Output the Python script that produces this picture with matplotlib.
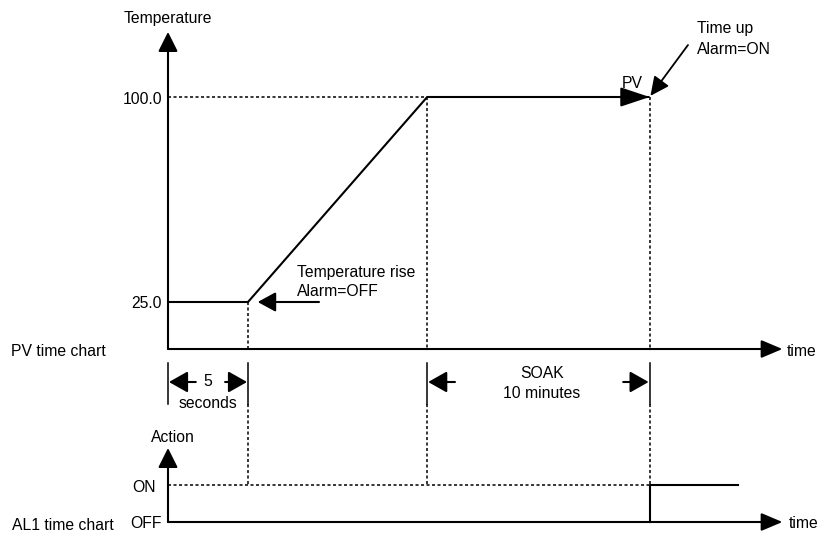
import matplotlib.pyplot as plt
from matplotlib.transforms import blended_transform_factory, offset_copy

plt.rcParams['font.family'] = ['Liberation Sans', 'DejaVu Sans']

# Schematic time points: start, rise start (+5 s), SV reached, soak end (+10 min)
t_events = [0.0, 5.0, 16.2, 30.1]
pv_values = [25.0, 25.0, 100.0, 100.0]
pv_ticks = [25.0, 100.0]
pv_tick_labels = ["25.0", "100.0"]

# AL1 output: switches ON when the soak time is up
al1_time = [30.1, 30.1, 35.6]
al1_state = [0, 1, 1]
al1_ticks = [0, 1]
al1_tick_labels = ["OFF", "ON"]

t_axis_end = 38.4
pv_axis_base = 7.8
pv_axis_top = 123.8
al1_axis_top = 2.0

W, H = 820, 538
FS = 11.3
LW = 1.5
TXT_DY = 2.0  # visual centring of text rows, in pixels
DOT = dict(color='black', lw=1.1, linestyle=(0, (2, 1.6)))

fig = plt.figure(figsize=(W / 100, H / 100), dpi=100)

ax_pv = fig.add_axes([0, 0, 1, 1])
ax_pv.set_xlim(-168 / 16, (W - 168) / 16)
ax_pv.set_ylim(25 - 236 / 2.7333, 100 + 97 / 2.7333)
ax_pv.axis('off')

ax_al = fig.add_axes([0, 0, 1, 1])
ax_al.set_xlim(ax_pv.get_xlim())
ax_al.set_ylim(-16 / 37, (H - 16) / 37)
ax_al.axis('off')
ax_al.patch.set_visible(False)


def fy(y_px):
    """Figure fraction for a pixel row counted from the top."""
    return 1 - y_px / H


def y_in(ax, y_px):
    disp = fig.transFigure.transform((0, fy(y_px)))
    return ax.transData.inverted().transform(disp)[1]


def arrow(ax, tip, tail, hl, hw, scale=10, lw=LW, **kw):
    ax.annotate('', xy=tip, xytext=tail,
                arrowprops=dict(arrowstyle=f'-|>,head_length={hl},head_width={hw}',
                                mutation_scale=scale, lw=lw, color='black',
                                shrinkA=0, shrinkB=0),
                **kw)


def ftext(x_px, y_px, s, **kw):
    kw.setdefault('va', 'center')
    fig.text(x_px / W, fy(y_px + TXT_DY), s, fontsize=FS, **kw)


def tick_labels(ax, x_px, values, labels, dx=None):
    base = blended_transform_factory(fig.transFigure, ax.transData)
    tr = offset_copy(base, fig=fig, y=-TXT_DY, units='dots')
    for i, (v, lab) in enumerate(zip(values, labels)):
        x = x_px if dx is None else x_px + dx[i]
        fig.text(x / W, v, lab, fontsize=FS, ha='right', va='center', transform=tr)


# ---------------- PV time chart ----------------
t0, t1, t2, t3 = t_events

# axes with arrowheads
arrow(ax_pv, (t0, pv_axis_top), (t0, pv_axis_base), 1.2, 0.6)
arrow(ax_pv, (t_axis_end, pv_axis_base), (t0, pv_axis_base), 1.3, 0.55)

# guide lines
ax_pv.plot([t0, t2], [pv_ticks[1], pv_ticks[1]], **DOT)
ax_pv.plot([t1, t1], [pv_values[1], pv_axis_base], **DOT)
ax_pv.plot([t2, t2], [pv_values[2], pv_axis_base], **DOT)
ax_pv.plot([t3, t3], [pv_values[3], pv_axis_base], **DOT)

# PV profile
ax_pv.plot(t_events, pv_values, color='black', lw=LW, solid_capstyle='butt')
arrow(ax_pv, (t3, pv_values[3]), (t3 - 1.6, pv_values[3]), 1.8, 0.6)

tick_labels(ax_pv, 162, pv_ticks, pv_tick_labels)

ftext(168, 16, "Temperature", ha='center')
ftext(11, 349, "PV time chart", ha='left')
ftext(787, 349, "time", ha='left')

# annotations
ax_pv.annotate('', xy=(t1, pv_values[1]), xycoords='data',
               xytext=(319 / W, fy(302)), textcoords='figure fraction',
               arrowprops=dict(arrowstyle='-|>,head_length=1.1,head_width=0.6',
                               mutation_scale=10, lw=LW, color='black',
                               shrinkA=0, shrinkB=7))
ftext(297, 270, "Temperature rise", ha='left')
ftext(297, 289, "Alarm=OFF", ha='left')

ax_pv.annotate('', xy=(t3, pv_values[3]), xycoords='data',
               xytext=(688 / W, fy(45)), textcoords='figure fraction',
               arrowprops=dict(arrowstyle='-|>,head_length=1.15,head_width=0.55',
                               mutation_scale=10, lw=1.3, color='black',
                               shrinkA=0, shrinkB=1))
ftext(697, 27, "Time up", ha='left')
ftext(697, 48, "Alarm=ON", ha='left')
ftext(632, 81, "PV", ha='center')

# ---------------- dimension lines ----------------
bar_tr = blended_transform_factory(ax_pv.transData, fig.transFigure)
for t in t_events:
    ax_pv.plot([t, t], [fy(363), fy(404)], color='black', lw=1.1, transform=bar_tr)

y_dim = fy(382)
for tip, dx in [(t0, 20.0), (t1, -16.5), (t2, 20.0), (t3, -19.0)]:
    ax_pv.annotate('', xy=(tip, y_dim), xycoords=('data', 'figure fraction'),
                   xytext=(dx, 0), textcoords='offset points',
                   arrowprops=dict(arrowstyle='-|>,head_length=1.15,head_width=0.65',
                                   mutation_scale=10, lw=LW, color='black',
                                   shrinkA=0, shrinkB=0.7))
ftext(208, 380, "5", ha='center')
ftext(208, 401, "seconds", ha='center')
ftext(542, 371, "SOAK", ha='center')
ftext(542, 391, "10 minutes", ha='center')

# ---------------- AL1 time chart ----------------
arrow(ax_al, (t0, al1_axis_top), (t0, al1_ticks[0]), 1.2, 0.6)
arrow(ax_al, (t_axis_end, al1_ticks[0]), (t0, al1_ticks[0]), 1.3, 0.55)

y_top = y_in(ax_al, 404)
ax_al.plot([t0, t3], [al1_ticks[1], al1_ticks[1]], **DOT)
for t in t_events[1:]:
    ax_al.plot([t, t], [y_top, al1_ticks[1]], **DOT)

ax_al.plot(al1_time, al1_state, color='black', lw=LW)

tick_labels(ax_al, 162, al1_ticks, al1_tick_labels, dx=[0, -6])

ftext(173, 436, "Action", ha='center')
ftext(12, 524, "AL1 time chart", ha='left')
ftext(789, 522, "time", ha='left')

fig.savefig('out.png', dpi=100)
